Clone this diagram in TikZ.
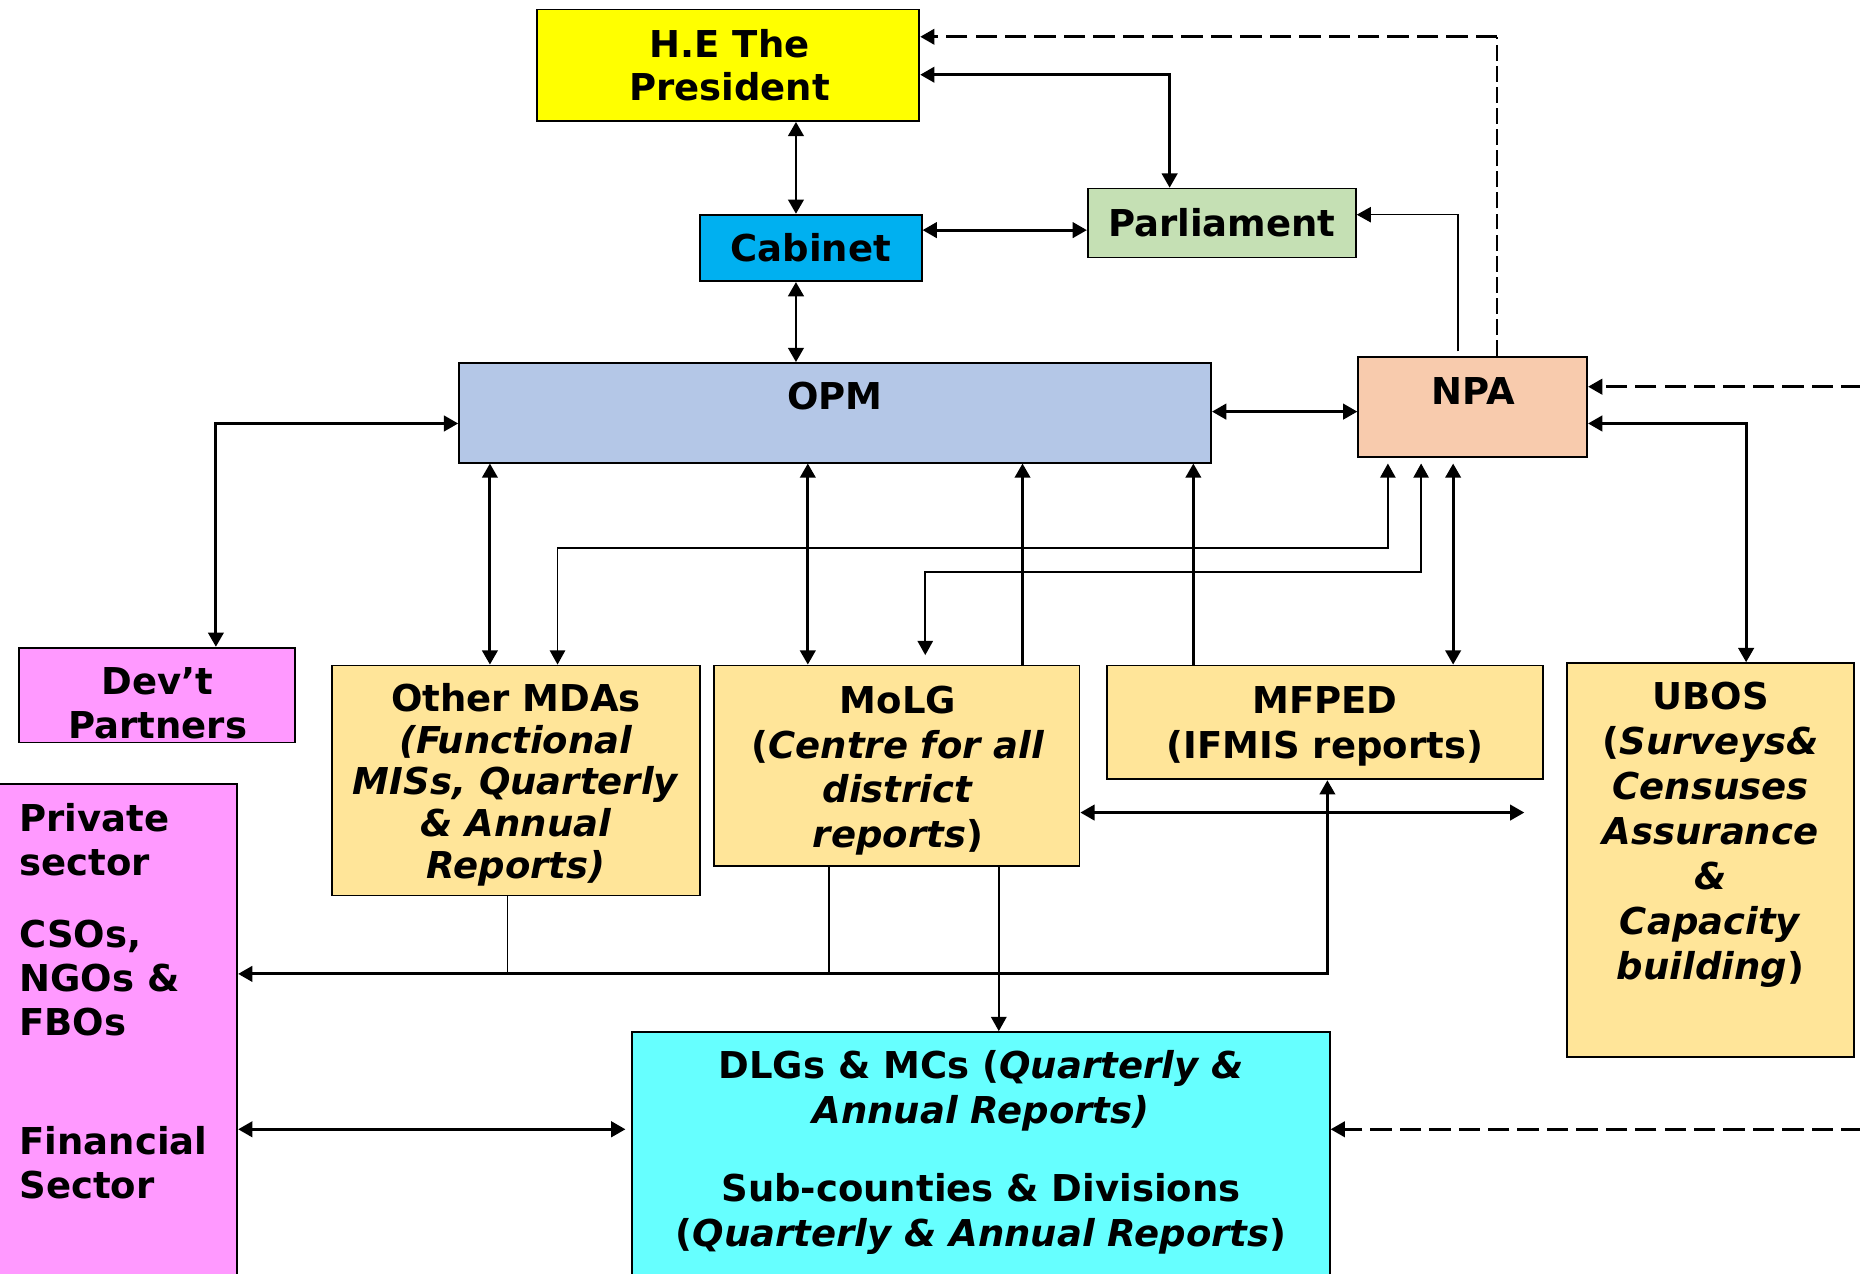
\documentclass[tikz,border=0pt]{standalone}
\usepackage{fontspec}
\setmainfont{DejaVu Sans}
\usetikzlibrary{arrows.meta}
\definecolor{cyel}{HTML}{FFFF00}
\definecolor{ccab}{HTML}{00B0F0}
\definecolor{cparl}{HTML}{C5E0B4}
\definecolor{copm}{HTML}{B4C7E7}
\definecolor{cnpa}{HTML}{F8CBAD}
\definecolor{cpink}{HTML}{FF99FF}
\definecolor{ctan}{HTML}{FFE599}
\definecolor{ccyan}{HTML}{66FFFF}
\begin{document}
\begin{tikzpicture}[x=0.5pt,y=-0.5pt,
  box/.style={draw, line width=0.75pt, inner sep=0pt},
  txt/.style={inner sep=0pt, align=center, font=\fontsize{15.6}{18.5}\selectfont\bfseries},
  lnk/.style={line width=1.2pt},
  lnkthin/.style={line width=0.65pt},
  onetip/.style={-{Triangle[length=6pt,width=6.5pt]}},
  twotips/.style={{Triangle[length=6pt,width=6.5pt]}-{Triangle[length=6pt,width=6.5pt]}},
  dsh/.style={line width=1.2pt, dash pattern=on 9pt off 3.4pt},
  dshthin/.style={line width=0.7pt, dash pattern=on 6.7pt off 2.2pt}]
\useasboundingbox (0,0) rectangle (1568,1074);
\fill[white] (0,0) rectangle (1568,1074);
% boxes
\node[box, fill=cyel, minimum width=161pt, minimum height=47pt] (pres) at (614,55) {};
\node[box, fill=ccab, minimum width=93.5pt, minimum height=28pt] (cab) at (683.5,209) {};
\node[box, fill=cparl, minimum width=113pt, minimum height=29pt] (parl) at (1030,188) {};
\node[box, fill=copm, minimum width=317pt, minimum height=42pt] (opm) at (704,348) {};
\node[box, fill=cnpa, minimum width=96.5pt, minimum height=42pt] (npa) at (1241.5,343) {};
\node[box, fill=cpink, minimum width=116.5pt, minimum height=40pt] (dev) at (132.5,586) {};
\node[box, fill=cpink, minimum width=101pt, minimum height=209.5pt] (priv) at (99,870.5) {};
\node[box, fill=ctan, minimum width=155pt, minimum height=97pt] (mdas) at (435,658) {};
\node[box, fill=ctan, minimum width=154pt, minimum height=84.5pt] (molg) at (756,645.5) {};
\node[box, fill=ctan, minimum width=184pt, minimum height=48pt] (mfped) at (1117,609) {};
\node[box, fill=ctan, minimum width=121pt, minimum height=166pt] (ubos) at (1442,725) {};
\node[box, fill=ccyan, minimum width=294pt, minimum height=105pt] (dlg) at (827,975) {};
% texts
\node[txt] (prest) at (615,55) {H.E The\\President};
\node[txt] (cabt) at (683.5,209) {Cabinet};
\node[txt] (parlt) at (1030,188) {Parliament};
\node[txt] (opmt) at (704,334) {OPM};
\node[txt] (npat) at (1242,330) {NPA};
\node[txt] (devt) at (133,593) {Dev’t\\Partners};
\node[txt, align=left, anchor=west] (privt1) at (16,708) {Private\\sector};
\node[txt, align=left, anchor=west] (privt2) at (16,824.5) {CSOs,\\NGOs \&\\FBOs};
\node[txt, align=left, anchor=west] (privt3) at (16,980) {Financial\\Sector};
\node[txt, font=\fontsize{15.6}{17.6}\selectfont\bfseries] (mdast) at (435,661.5) {Other MDAs\\\textit{(Functional}\\\textit{MISs, Quarterly}\\\textit{\& Annual}\\\textit{Reports)}};
\node[txt, font=\fontsize{15.6}{18.8}\selectfont\bfseries] (molgt) at (757,649.5) {MoLG\\(\textit{Centre for all}\\\textit{district}\\\textit{reports})};
\node[txt, font=\fontsize{15.6}{19}\selectfont\bfseries] (mfpedt) at (1117,612) {MFPED\\(IFMIS reports)};
\node[txt, font=\fontsize{15.6}{19}\selectfont\bfseries] (ubost) at (1442,703.5) {UBOS\\(\textit{Surveys\&}\\\textit{Censuses}\\\textit{Assurance}\\\textit{\&}\\\textit{Capacity}\\\textit{building})};
\node[txt, font=\fontsize{15.6}{19}\selectfont\bfseries] (dlgt) at (827,971.5) {DLGs \& MCs (\textit{Quarterly \&}\\\textit{Annual Reports)}\\[13.5pt]Sub-counties \& Divisions\\(\textit{Quarterly \& Annual Reports})};
% free ends and corners
\coordinate (rtA) at (1570,326);
\coordinate (rtB) at (1570,952);
\coordinate (molgR) at (1285,685);
\coordinate (dcorner) at (1262,31);
% connectors
\draw[lnk, twotips] (pres.south -| 671,0) -- (cab.north -| 671,0);
\draw[lnk, twotips] (cab.south -| 671,0) -- (opm.north -| 671,0);
\draw[lnk, twotips] (cab.east |- 0,194) -- (parl.west |- 0,194);
\draw[lnk, twotips] (pres.east |- 0,63) -| (parl.north -| 986,0);
\draw[dshthin] (npa.north -| dcorner) -- (dcorner);
\draw[dsh, onetip] (dcorner) -- (pres.east |- dcorner);
\draw[lnkthin, onetip] ([yshift=2pt]npa.north -| 1229,0) |- (parl.east |- 0,181);
\draw[lnk, twotips] (opm.east |- 0,347) -- (npa.west |- 0,347);
\draw[dsh, onetip] (rtA) -- (npa.east |- rtA);
\draw[lnk, twotips] (npa.east |- 0,357) -| (ubos.north -| 1472,0);
\draw[lnk, twotips] (opm.west |- 0,357) -| (dev.north -| 182,0);
\draw[lnk, twotips] (opm.south -| 413,0) -- (mdas.north -| 413,0);
\draw[lnkthin, twotips, shorten <=2.5pt] (npa.south -| 1170,0) |- (470,462) -- (mdas.north -| 470,0);
\draw[lnkthin, twotips, shorten <=2.5pt] (npa.south -| 1198,0) |- (780,482) -- ([yshift=4pt]molg.north -| 780,0);
\draw[lnk, twotips] (opm.south -| 681,0) -- (molg.north -| 681,0);
\draw[lnk, onetip] (molg.north -| 862,0) -- (opm.south -| 862,0);
\draw[lnk, onetip] (mfped.north -| 1006,0) -- (opm.south -| 1006,0);
\draw[lnk, twotips, shorten <=2.5pt] (npa.south -| 1225,0) -- (mfped.north -| 1225,0);
\draw[lnk, twotips] (molg.east |- molgR) -- (molgR);
\draw[lnk, twotips] (priv.east |- 0,821) -| (mfped.south -| 1119,0);
\draw[lnkthin] (mdas.south -| 428,0) -- (428,821);
\draw[lnkthin] (molg.south -| 699,0) -- (699,821);
\draw[lnkthin, onetip, line width=0.8pt] (molg.south -| 842,0) -- (dlg.north -| 842,0);
\draw[lnk, twotips, shorten >=2.5pt] (priv.east |- 0,952) -- (dlg.west |- 0,952);
\draw[dsh, onetip] (rtB) -- (dlg.east |- rtB);
\end{tikzpicture}
\end{document}
